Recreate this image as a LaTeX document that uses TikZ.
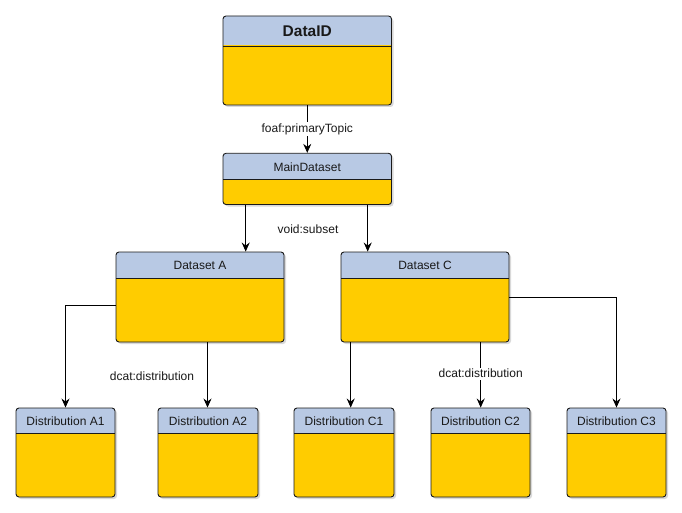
\documentclass[tikz,border=0pt]{standalone}
\usepackage{fontspec}
\setmainfont{Liberation Sans}
\usetikzlibrary{arrows.meta,fit}
\definecolor{hdr}{HTML}{B8C9E4}
\definecolor{body}{HTML}{FFCC00}
\definecolor{edge}{HTML}{1A1A1A}
\tikzset{
  boxnode/.style={draw=edge, line width=0.9pt, rounded corners=3pt, inner sep=0pt, fill=none},
  boxline/.style={draw=edge, line width=0.9pt},
  titletext/.style={inner sep=0pt, text=black!90, font=\fontsize{12}{14}\selectfont},
  bigtitle/.style={inner sep=0pt, text=black!90, font=\fontsize{15.5}{18}\selectfont\bfseries},
  lbl/.style={inner sep=1.5pt, text=black!90, font=\fontsize{12}{14}\selectfont},
  arr/.style={draw=black, line width=0.9pt, -{Stealth[length=9pt,width=8pt,inset=3pt]}},
}
\newcommand\umlbox[8]{%
  \fill[black, opacity=0.15, rounded corners=3pt] (#2+2,#3+2) rectangle (#4+2,#5+2);
  \fill[hdr, rounded corners=3pt] (#2,#3) rectangle (#4,#5);
  \begin{scope}
    \clip (#2-1,#6) rectangle (#4+1,#5+1);
    \fill[body, rounded corners=3pt] (#2,#3) rectangle (#4,#5);
  \end{scope}
  \draw[boxline] (#2,#6) -- (#4,#6);
  \node[boxnode, fit={(#2,#3) (#4,#5)}] (#1) {};
  \node[#8] (#1-t) at ({(#2+#4)/2},{(#3+#6)/2+0.5}) {#7};
}
\begin{document}
\begin{tikzpicture}[x=1pt,y=-1pt]
\useasboundingbox[fill=white] (0,0) rectangle (682,513);

\umlbox{dataid}{223}{16}{391.5}{105}{46}{DataID}{bigtitle}
\umlbox{main}{223}{153.3}{391.5}{204.5}{179.3}{MainDataset}{titletext}
\umlbox{dsA}{116}{252}{284}{342}{278}{Dataset A}{titletext}
\umlbox{dsC}{341}{252}{509}{342}{278}{Dataset C}{titletext}
\umlbox{dA1}{16}{408}{115}{497}{433}{Distribution A1}{titletext}
\umlbox{dA2}{158}{408}{258}{497}{433}{Distribution A2}{titletext}
\umlbox{dC1}{294}{408}{394}{497}{433}{Distribution C1}{titletext}
\umlbox{dC2}{431}{408}{530}{497}{433}{Distribution C2}{titletext}
\umlbox{dC3}{567}{408}{666}{497}{433}{Distribution C3}{titletext}

% connectors
\draw[arr] (dataid.south) -- (main.north)
  node[lbl, midway, fill=white] (lfoaf) {foaf:primaryTopic};
\draw[arr] (245.7,0 |- main.south) -- (245.7,0 |- dsA.north);
\draw[arr] (367.7,0 |- main.south) -- (367.7,0 |- dsC.north);
\node[lbl] (lvoid) at (308,229) {void:subset};

\draw[arr] (dsA.west |- 0,305.3) -| (dA1.north);
\draw[arr] (207.5,0 |- dsA.south) -- (207.5,0 |- dA2.north);
\node[lbl] (ldistA) at (152,376) {dcat:distribution};

\draw[arr] (350.7,0 |- dsC.south) -- (350.7,0 |- dC1.north);
\draw[arr] (480.7,0 |- dsC.south) -- (480.7,0 |- dC2.north)
  node[lbl, pos=0.48, fill=white] (ldistC) {dcat:distribution};
\draw[arr] (dsC.east |- 0,297.3) -| (dC3.north);
\end{tikzpicture}
\end{document}
